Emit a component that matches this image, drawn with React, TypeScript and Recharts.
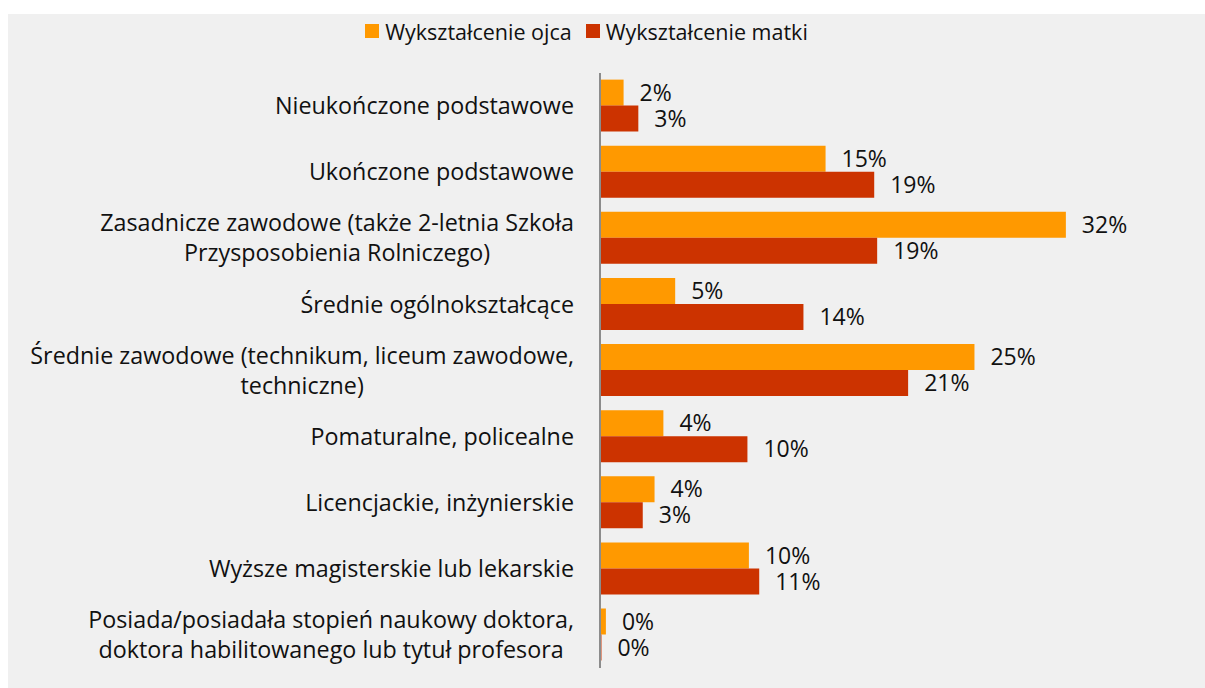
import React from "react";
import { BarChart, Bar, XAxis, YAxis, Legend, LabelList } from "recharts";

const categories: string[] = [
  "Nieukończone podstawowe",
  "Ukończone podstawowe",
  "Zasadnicze zawodowe (także 2-letnia Szkoła\nPrzysposobienia Rolniczego)",
  "Średnie ogólnokształcące",
  "Średnie zawodowe (technikum, liceum zawodowe,\ntechniczne)",
  "Pomaturalne, policealne",
  "Licencjackie, inżynierskie",
  "Wyższe magisterskie lub lekarskie",
  "Posiada/posiadała stopień naukowy doktora,\ndoktora habilitowanego lub tytuł profesora",
];
const ojca: number[] = [1.6, 15.3, 31.6, 5.1, 25.4, 4.3, 3.7, 10.1, 0.4];
const matki: number[] = [2.6, 18.6, 18.8, 13.8, 20.9, 10.0, 2.9, 10.8, 0.1];
const seriesNames: string[] = ["Wykształcenie ojca", "Wykształcenie matki"];
const colors: string[] = ["#FF9900", "#CC3300"];

const data = categories.map((c, i) => ({ name: c, ojca: ojca[i], matki: matki[i] }));

const FONT = "'Open Sans', sans-serif";
const TICK_SIZE = 23.3;
const TEXT_COLOR = "#111111";

let ctx: CanvasRenderingContext2D | null = null;
function measure(text: string, size: number): number {
  if (!ctx) {
    const c = document.createElement("canvas");
    ctx = c.getContext("2d");
  }
  if (!ctx) return text.length * size * 0.55;
  ctx.font = `${size}px 'Open Sans'`;
  return ctx.measureText(text).width;
}

const CategoryTick = (props: any) => {
  const { x, y, payload } = props;
  const lines: string[] = String(payload.value).split("\n");
  const widths = lines.map((l) => measure(l, TICK_SIZE));
  const maxW = Math.max(...widths);
  const right = x - 18;
  const cx = right - maxW / 2;
  const lh = 30;
  return (
    <g>
      {lines.map((l, i) => (
        <text
          key={i}
          x={lines.length > 1 ? cx : right}
          y={y + (i - (lines.length - 1) / 2) * lh}
          dy="0.35em"
          textAnchor={lines.length > 1 ? "middle" : "end"}
          fontFamily={FONT}
          fontSize={TICK_SIZE}
          fill={TEXT_COLOR}
        >
          {l}
        </text>
      ))}
    </g>
  );
};

const LegendContent = () => (
  <div
    style={{
      height: 34,
      display: "flex",
      justifyContent: "center",
      alignItems: "center",
      paddingRight: 40,
      fontFamily: FONT,
      fontSize: 21.5,
      color: TEXT_COLOR,
    }}
  >
    {seriesNames.map((n, i) => (
      <div key={n} style={{ display: "flex", alignItems: "center", marginRight: i === 0 ? 14 : 0 }}>
        <div style={{ width: 14, height: 14, background: colors[i], marginRight: 6 }} />
        <span>{n}</span>
      </div>
    ))}
  </div>
);

const fmt = (v: any) => `${Math.round(Number(v))}%`;

export default function App() {
  return (
    <div
      style={{
        position: "fixed",
        left: 8,
        top: 14,
        width: 1197,
        height: 674,
        background: "#F0F0F0",
      }}
    >
      <BarChart
        width={1197}
        height={674}
        data={data}
        layout="vertical"
        margin={{ top: 25, right: 89, bottom: 20, left: 0 }}
        barCategoryGap="10%"
        barGap={0}
      >
        <Legend verticalAlign="top" content={<LegendContent />} wrapperStyle={{ top: 0, left: 0, width: 1197 }} />
        <XAxis type="number" domain={[0, 35]} hide />
        <YAxis
          type="category"
          dataKey="name"
          width={592}
          axisLine={{ stroke: "#8C8C8C", strokeWidth: 2 }}
          tickLine={false}
          tick={<CategoryTick />}
          interval={0}
        />
        <Bar dataKey="ojca" name={seriesNames[0]} fill={colors[0]} isAnimationActive={false}>
          <LabelList dataKey="ojca" position="right" offset={16} formatter={fmt} fill={TEXT_COLOR} fontFamily={FONT} fontSize={23} />
        </Bar>
        <Bar dataKey="matki" name={seriesNames[1]} fill={colors[1]} isAnimationActive={false}>
          <LabelList dataKey="matki" position="right" offset={16} formatter={fmt} fill={TEXT_COLOR} fontFamily={FONT} fontSize={23} />
        </Bar>
      </BarChart>
    </div>
  );
}
